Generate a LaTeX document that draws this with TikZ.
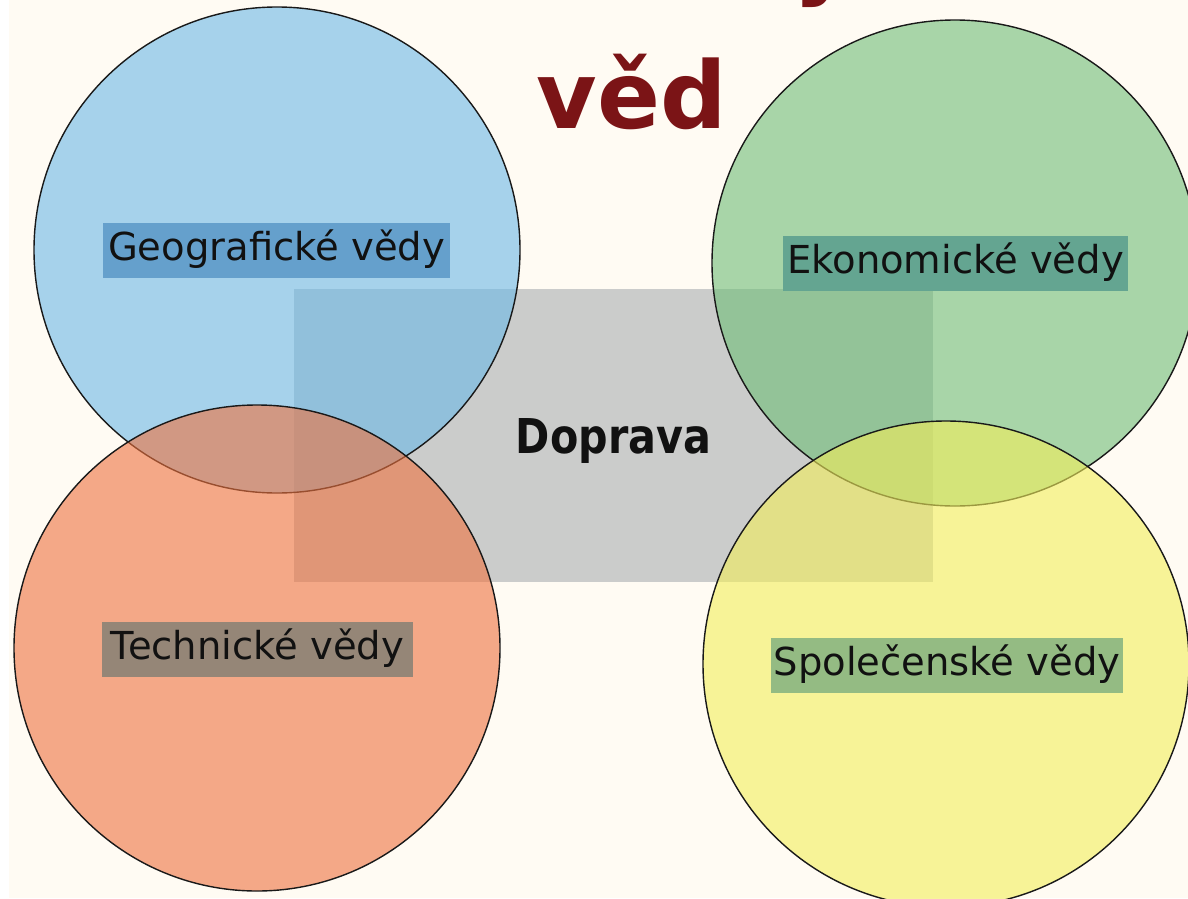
\documentclass[tikz,border=0pt]{standalone}
\usepackage{fontspec}
\usepackage{graphicx}
\setmainfont{DejaVu Sans}
\definecolor{paper}{RGB}{255,251,243}
\definecolor{hub}{RGB}{203,204,203}
\definecolor{geofill}{RGB}{107,184,231}
\definecolor{techfill}{RGB}{238,114,63}
\definecolor{ekofill}{RGB}{110,189,118}
\definecolor{spolfill}{RGB}{242,238,90}
\definecolor{geolbl}{RGB}{101,160,204}
\definecolor{ekolbl}{RGB}{100,165,145}
\definecolor{techlbl}{RGB}{149,134,119}
\definecolor{spollbl}{RGB}{148,187,131}
\definecolor{titlered}{RGB}{123,20,22}
\definecolor{ink}{RGB}{17,17,17}
\begin{document}
\begin{tikzpicture}[x=1pt,y=-1pt,
  field/.style={circle, inner sep=0pt, minimum size=486pt, draw=black!90,
    line width=1.4pt, fill opacity=0.6},
  lbl/.style={rectangle, inner sep=0pt, text height=37pt, text depth=18pt,
    text=ink, font=\fontsize{38.5}{46}\selectfont},
  titletext/.style={text=titlered, font=\bfseries\fontsize{93}{100}\selectfont, inner sep=0pt}]
  % page and background
  \fill[white] (0,0) rectangle (1188,899);
  \useasboundingbox (0,0) rectangle (1188,899);
  \fill[paper] (9,0) rectangle (1188,898);
  \begin{scope}
    \clip (9,0) rectangle (1188,898);
    % heading (its first line runs off the top)
    \node[titletext, anchor=base] (titleend) at (824,-12) {y};
    \node[titletext, anchor=base] (title) at (632,128) {věd};
    % central field
    \node[rectangle, fill=hub, inner sep=0pt, minimum width=639pt,
      minimum height=293pt] (hubbox) at (613.5,435.5) {};
    % the four sciences
    \node[field, fill=geofill] (geo) at (277,250) {};
    \node[field, fill=techfill] (tech) at (257,648) {};
    \node[field, fill=ekofill] (eko) at (955,263) {};
    \node[field, fill=spolfill] (spol) at (946,664) {};
    % labels
    \node[lbl, fill=geolbl, minimum width=347pt] (geolabel) at (276.5,250.5) {Geografické vědy};
    \node[lbl, fill=ekolbl, minimum width=345pt] (ekolabel) at (955.5,263.5) {Ekonomické vědy};
    \node[lbl, fill=techlbl, minimum width=311pt] (techlabel) at (257.5,649.5) {Technické vědy};
    \node[lbl, fill=spollbl, minimum width=352pt] (spollabel) at (947,665.5) {Společenské vědy};
    \node[anchor=base, inner sep=0pt, text=ink] (hublabel) at (613.5,453)
      {\scalebox{0.86}[1]{\bfseries\fontsize{48}{56}\selectfont Doprava}};
  \end{scope}
\end{tikzpicture}
\end{document}
